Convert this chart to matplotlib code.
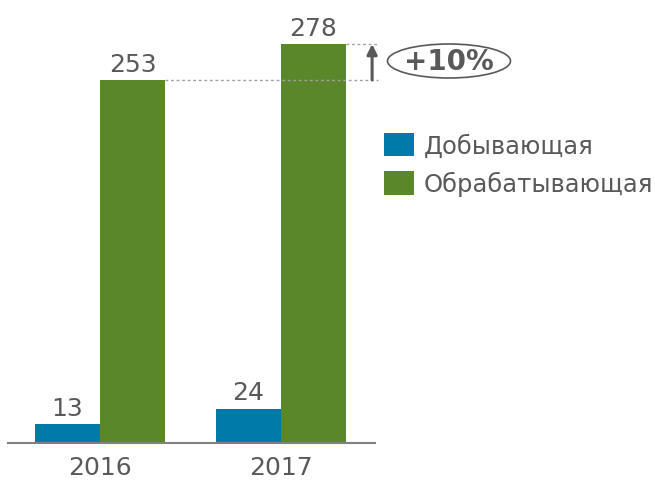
import matplotlib
matplotlib.use("Agg")
import matplotlib.pyplot as plt
from matplotlib.patches import Ellipse
import numpy as np

years = ["2016", "2017"]
mining = [13, 24]
manufacturing = [253, 278]
names = ["Добывающая", "Обрабатывающая"]
growth = "+10%"

blue = "#007AA8"
green = "#5A8729"
grey = "#595959"

W, H = 655, 485
fig = plt.figure(figsize=(W / 100, H / 100), dpi=100)
# axes placed in pixel terms: baseline at y=444, x span 8..375
ax = fig.add_axes([8 / W, (H - 444) / H, (375 - 8) / W, 430.5 / H])

x = np.arange(len(years))
bw = 0.359
b1 = ax.bar(x - bw / 2, mining, bw, color=blue, label=names[0])
b2 = ax.bar(x + bw / 2, manufacturing, bw, color=green, label=names[1])

for rect, v in zip(list(b1) + list(b2), mining + manufacturing):
    ax.text(rect.get_x() + rect.get_width() / 2, v + 3, str(v),
            ha="center", va="bottom", fontsize=18, color=grey)

ax.set_xlim(-0.508, 1.519)
ax.set_ylim(0, 300)
ax.set_xticks(x)
ax.set_xticklabels(years, fontsize=18, color=grey)
ax.tick_params(axis="x", length=0, pad=9)
ax.set_yticks([])
for s in ["top", "right", "left"]:
    ax.spines[s].set_visible(False)
ax.spines["bottom"].set_color("#808080")
ax.spines["bottom"].set_linewidth(1.5)

# dotted guide lines and growth arrow
xr = 1.536
ax.plot([0 + bw, xr], [manufacturing[0]] * 2, ls=(0, (2, 2)), color="#A0A0A0",
        lw=1, clip_on=False)
ax.plot([1 + bw, xr], [manufacturing[1]] * 2, ls=(0, (2, 2)), color="#A0A0A0",
        lw=1, clip_on=False)
xa = 1.503
ax.annotate("", xy=(xa, manufacturing[1]), xytext=(xa, manufacturing[0]),
            arrowprops=dict(arrowstyle="-|>,head_width=0.3,head_length=0.6",
                            color="#595959", lw=2.2, shrinkA=0, shrinkB=0),
            annotation_clip=False)

# ellipse label
ex, ey = 449 / W, 1 - 62 / H
fig.patches.append(Ellipse((ex, ey), 123 / W, 34 / H, transform=fig.transFigure,
                           fill=False, edgecolor="#595959", lw=1.2))
fig.text(ex, ey, growth, ha="center", va="center", fontsize=20,
         fontweight="bold", color=grey)

fig.legend(handles=[b1, b2], labels=names, loc="upper left",
           bbox_to_anchor=(362 / W, 1 - 112 / H), frameon=False,
           fontsize=17.5, handlelength=1.25, handleheight=1.1,
           handletextpad=0.4, labelspacing=0.55, labelcolor=grey)

fig.savefig("out.png", dpi=100)
